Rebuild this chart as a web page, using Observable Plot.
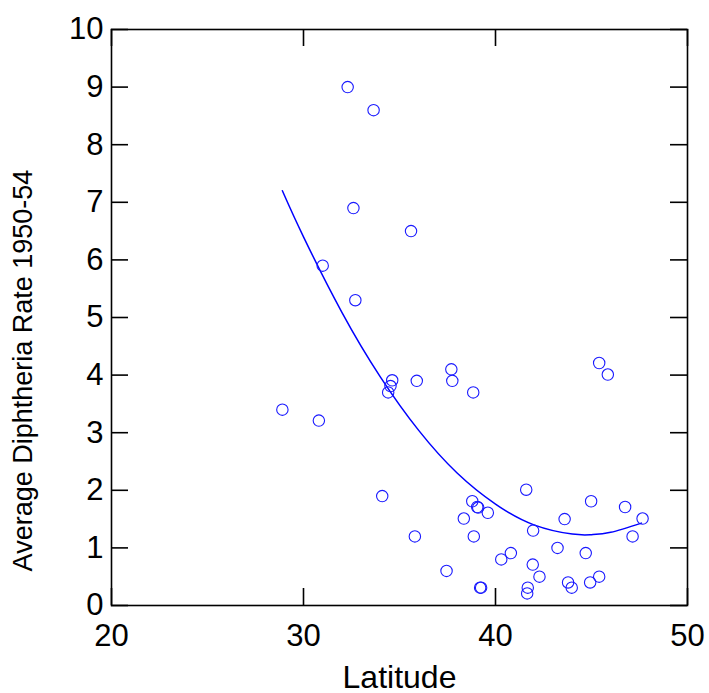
<!DOCTYPE html>
<html><head><meta charset="utf-8">
<script src="https://cdn.jsdelivr.net/npm/d3@7"></script>
<script src="https://cdn.jsdelivr.net/npm/@observablehq/plot@0.6"></script>
<style>body{margin:0;background:#fff} svg{display:block}</style>
</head><body><div id="chart"></div>
<script>
const latitude = [28.9, 30.8, 31.0, 32.3, 32.6, 32.7, 33.65, 34.1, 34.41, 34.53, 34.62, 35.6, 35.9, 35.8, 37.45, 37.7, 37.75, 38.35, 38.84, 38.79, 38.87, 39.05, 39.1, 39.2, 39.25, 39.6, 40.3, 40.8, 41.6, 41.68, 41.65, 41.96, 41.94, 42.29, 43.23, 43.6, 43.78, 43.97, 44.7, 44.93, 44.98, 45.4, 45.4, 45.85, 46.75, 47.14, 47.66];
const rate = [3.4, 3.21, 5.9, 9.0, 6.9, 5.3, 8.6, 1.9, 3.7, 3.81, 3.91, 6.5, 3.9, 1.2, 0.6, 4.1, 3.9, 1.51, 3.7, 1.81, 1.2, 1.71, 1.7, 0.31, 0.31, 1.61, 0.8, 0.91, 2.01, 0.31, 0.21, 1.3, 0.71, 0.5, 1.0, 1.5, 0.4, 0.31, 0.91, 0.4, 1.81, 4.21, 0.5, 4.01, 1.71, 1.2, 1.51];
const curveLat = [28.9, 30, 32, 34, 36, 38, 40, 42, 44, 45, 46, 47.6];
const curveRate = [7.20, 6.40, 5.09, 3.97, 3.04, 2.30, 1.76, 1.40, 1.24, 1.23, 1.27, 1.43];
const xTicks = [20, 30, 40, 50];
const yTicks = [0, 1, 2, 3, 4, 5, 6, 7, 8, 9, 10];
const xTitle = "Latitude";
const yTitle = "Average Diphtheria Rate 1950-54";

const points = latitude.map((x, i) => ({x, y: rate[i]}));
const curve = curveLat.map((x, i) => ({x, y: curveRate[i]}));

const W = 709, H = 693, mL = 111, mR = 22, mT = 29, mB = 88;
const plotW = W - mL - mR, plotH = H - mT - mB, T = 17;

const chart = Plot.plot({
  width: W, height: H, marginLeft: mL, marginRight: mR, marginTop: mT, marginBottom: mB,
  style: {fontFamily: "'Liberation Sans', Arial, sans-serif", background: "white", color: "black"},
  x: {domain: [20, 50]},
  y: {domain: [0, 10]},
  marks: [
    Plot.tickY(yTicks, {y: d => d, insetRight: plotW - T, stroke: "black", strokeWidth: 1.6}),
    Plot.tickY(yTicks, {y: d => d, insetLeft: plotW - T, stroke: "black", strokeWidth: 1.6}),
    Plot.tickX(xTicks, {x: d => d, insetTop: plotH - T, stroke: "black", strokeWidth: 1.6}),
    Plot.tickX(xTicks, {x: d => d, insetBottom: plotH - T, stroke: "black", strokeWidth: 1.6}),
    Plot.frame({stroke: "black", strokeWidth: 1.6}),
    Plot.axisY({ticks: yTicks, tickSize: 0, tickPadding: 8, fontSize: 31, label: null}),
    Plot.axisX({ticks: xTicks, tickSize: 0, tickPadding: 18, fontSize: 31, label: null}),
    Plot.line(curve, {x: "x", y: "y", stroke: "#0000ff", strokeWidth: 1.5, curve: "natural"}),
    Plot.dot(points, {x: "x", y: "y", r: 5.7, stroke: "#1a1aff", strokeWidth: 1.1, fill: "none"}),
    Plot.text([xTitle], {text: d => d, frameAnchor: "bottom", dy: 82, lineAnchor: "bottom", fontSize: 32}),
    Plot.text([yTitle], {text: d => d, frameAnchor: "left", textAnchor: "middle", lineAnchor: "middle", rotate: -90, dx: -88, dy: 53, fontSize: 27})
  ]
});
document.getElementById("chart").appendChild(chart);
</script>
</body></html>
